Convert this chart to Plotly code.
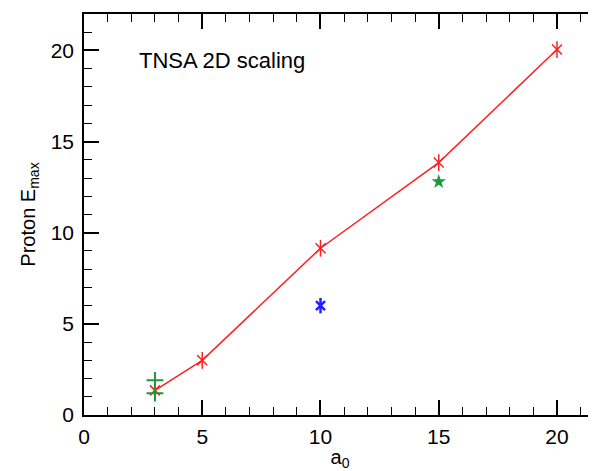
import plotly.graph_objects as go

# TNSA 2D scaling data
a0_red = [3, 5, 10, 15, 20]
emax_red = [1.35, 3.0, 9.15, 13.85, 20.05]

a0_green_plus = [3, 3]
emax_green_plus = [1.9, 1.2]

a0_green_star = [15]
emax_green_star = [12.8]

a0_blue = [10]
emax_blue = [6.0]

x_ticks = [0, 5, 10, 15, 20]
y_ticks = [0, 5, 10, 15, 20]

RED = "#ff2020"
GREEN = "#1a9a3a"
BLUE = "#2020ff"

fig = go.Figure()

# red line with asterisks (x + vertical bar)
fig.add_trace(go.Scatter(x=a0_red, y=emax_red, mode="lines+markers",
                         line=dict(color=RED, width=1.5),
                         marker=dict(symbol="x-thin-open", size=10, color=RED,
                                     line=dict(color=RED, width=1.5))))
fig.add_trace(go.Scatter(x=a0_red, y=emax_red, mode="markers",
                         marker=dict(symbol="line-ns-open", size=12, color=RED,
                                     line=dict(color=RED, width=1.5))))

fig.add_trace(go.Scatter(x=a0_green_plus, y=emax_green_plus, mode="markers",
                         marker=dict(symbol="cross-thin-open", size=12, color=GREEN,
                                     line=dict(color=GREEN, width=2))))
fig.add_trace(go.Scatter(x=a0_green_star, y=emax_green_star, mode="markers",
                         marker=dict(symbol="star", size=11, color=GREEN,
                                     line=dict(width=0))))

fig.add_trace(go.Scatter(x=a0_blue, y=emax_blue, mode="markers",
                         marker=dict(symbol="x-thin-open", size=9, color=BLUE,
                                     line=dict(color=BLUE, width=2.5))))
fig.add_trace(go.Scatter(x=a0_blue, y=emax_blue, mode="markers",
                         marker=dict(symbol="line-ns-open", size=11, color=BLUE,
                                     line=dict(color=BLUE, width=2.5))))

fig.add_annotation(x=2.25, y=19.45, text="TNSA 2D scaling", showarrow=False,
                   xanchor="left", yanchor="middle",
                   font=dict(size=22, color="black"))

axis_common = dict(showgrid=False, zeroline=False, showline=True,
                   linecolor="black", linewidth=1.5,
                   ticks="inside", ticklen=15, tickwidth=1.5, tickcolor="black",
                   tickfont=dict(size=21, color="black"),
                   minor=dict(dtick=1, ticks="inside", ticklen=8,
                              tickwidth=1.2, tickcolor="black"))

fig.update_xaxes(range=[0, 21.65], tickvals=x_ticks, mirror="ticks",
                 ticklabelstandoff=2,
                 title=dict(text="a<sub>0</sub>", font=dict(size=20, color="black"),
                            standoff=0),
                 **axis_common)
fig.update_yaxes(range=[0, 22], tickvals=y_ticks,
                 ticklabelstandoff=4,
                 title=dict(text="Proton E<sub>max</sub>", font=dict(size=20, color="black"),
                            standoff=10),
                 **axis_common)

# page body has an 8px margin, so the figure is 8px smaller than the window
fig.update_layout(width=588, height=463,
                  margin=dict(l=76, r=0, t=6, b=56),
                  plot_bgcolor="white", paper_bgcolor="white",
                  showlegend=False,
                  font=dict(family="Liberation Sans, Arial, sans-serif"))

fig.write_html("out.html")
